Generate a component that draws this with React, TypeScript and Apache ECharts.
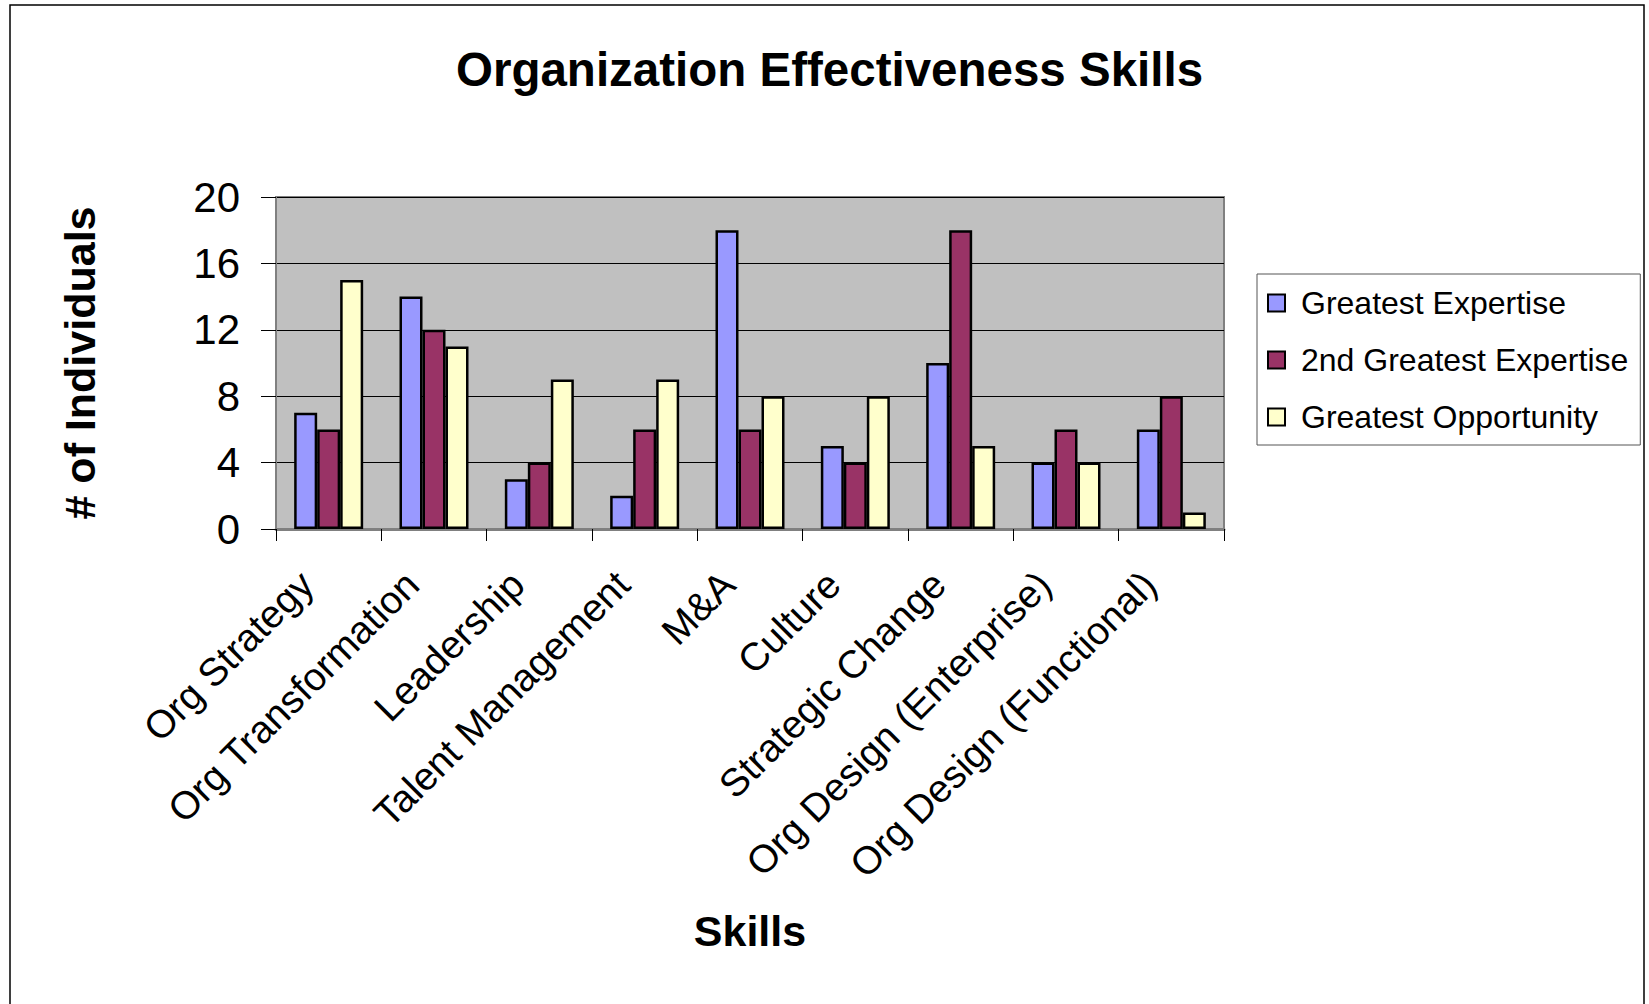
import React, { useEffect, useRef } from "react";
import * as echarts from "echarts";

const categories = [
  "Org Strategy",
  "Org Transformation",
  "Leadership",
  "Talent Management",
  "M&A",
  "Culture",
  "Strategic Change",
  "Org Design (Enterprise)",
  "Org Design (Functional)",
];
const greatestExpertise = [7, 14, 3, 2, 18, 5, 10, 4, 6];
const secondGreatestExpertise = [6, 12, 4, 6, 6, 4, 18, 6, 8];
const greatestOpportunity = [15, 11, 9, 9, 8, 8, 5, 4, 1];
const seriesNames = ["Greatest Expertise", "2nd Greatest Expertise", "Greatest Opportunity"];
const seriesColors = ["#9999FF", "#993366", "#FFFFCC"];

const FONT = "'Liberation Sans', Arial, sans-serif";

export default function App() {
  const ref = useRef<HTMLDivElement>(null);
  useEffect(() => {
    document.body.style.margin = "0";
    const chart = echarts.init(ref.current!, null, { renderer: "svg" });
    const values = [greatestExpertise, secondGreatestExpertise, greatestOpportunity];
    chart.setOption({
      animation: false,
      backgroundColor: "#FFFFFF",
      textStyle: { fontFamily: FONT, color: "#000" },
      title: {
        text: "Organization Effectiveness Skills",
        left: 451,
        top: 40,
        textStyle: { fontFamily: FONT, fontSize: 47.5, fontWeight: "bold", color: "#000" },
      },
      graphic: [
        {
          type: "rect",
          shape: { x: 10, y: 5, width: 1634, height: 1100 },
          style: { fill: "none", stroke: "#000", lineWidth: 1.5 },
          silent: true,
          z: -10,
        },
      ],
      legend: {
        orient: "vertical",
        left: 1257,
        top: 274,
        padding: [12, 12, 11, 10],
        itemWidth: 17,
        itemHeight: 17,
        itemGap: 23,
        icon: "rect",
        borderColor: "#555",
        borderWidth: 1,
        backgroundColor: "#FFFFFF",
        itemStyle: { borderColor: "#000", borderWidth: 2 },
        textStyle: { fontFamily: FONT, fontSize: 32, lineHeight: 34, color: "#000", padding: [0, 0, 0, 11] },
        data: seriesNames,
      },
      grid: {
        left: 276,
        top: 197,
        width: 948,
        height: 332,
        containLabel: false,
        outerBoundsMode: "none",
        show: true,
        backgroundColor: "#C0C0C0",
        borderColor: "#808080",
        borderWidth: 2,
      },
      xAxis: {
        type: "category",
        data: categories,
        name: "Skills",
        nameLocation: "middle",
        nameGap: 380,
        nameTextStyle: { fontFamily: FONT, fontSize: 43, fontWeight: "bold", color: "#000" },
        axisLine: { show: true, lineStyle: { color: "#808080", width: 3 } },
        axisTick: { show: true, length: 12, lineStyle: { color: "#000", width: 1 } },
        axisLabel: {
          interval: 0,
          rotate: 45,
          margin: 27,
          padding: [0, 31, 0, 0],
          fontFamily: FONT,
          fontSize: 39,
          color: "#000",
          hideOverlap: false,
        },
        splitLine: { show: false },
      },
      yAxis: {
        type: "value",
        min: 0,
        max: 20,
        interval: 4,
        name: "# of Individuals",
        nameLocation: "middle",
        nameRotate: 90,
        nameGap: 175,
        nameTextStyle: { fontFamily: FONT, fontSize: 43, fontWeight: "bold", color: "#000" },
        axisLine: { show: true, lineStyle: { color: "#808080", width: 2 } },
        axisTick: { show: true, length: 15, lineStyle: { color: "#000", width: 1 } },
        axisLabel: { margin: 36, fontFamily: FONT, fontSize: 42, color: "#000" },
        splitLine: { show: true, lineStyle: { color: "#000", width: 1 } },
      },
      series: seriesNames.map((name, i) => ({
        name,
        type: "bar",
        data: values[i],
        barWidth: 23,
        barGap: "0%",
        itemStyle: { color: seriesColors[i], borderColor: "#000", borderWidth: 2.5 },
      })),
    });
    return () => chart.dispose();
  }, []);
  return <div ref={ref} style={{ width: 1649, height: 1004 }} />;
}
